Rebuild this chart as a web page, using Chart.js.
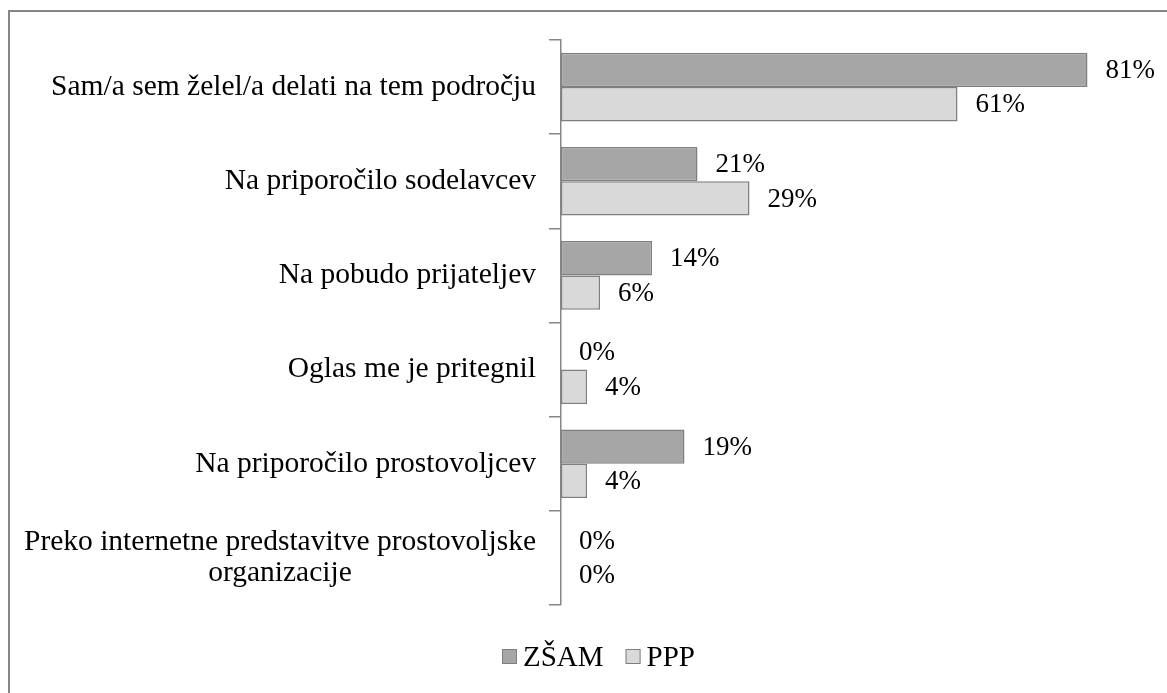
<!DOCTYPE html>
<html>
<head>
<meta charset="utf-8">
<script src="https://cdn.jsdelivr.net/npm/chart.js@4/dist/chart.umd.min.js"></script>
<style>
  body { margin: 0; background: #fff; }
  #wrap { position: relative; width: 1167px; height: 693px; }
</style>
</head>
<body>
<div id="wrap"><canvas id="chart" width="1167" height="693"></canvas></div>
<script>
const categories = [
  ['Sam/a sem želel/a delati na tem področju'],
  ['Na priporočilo sodelavcev'],
  ['Na pobudo prijateljev'],
  ['Oglas me je pritegnil'],
  ['Na priporočilo prostovoljcev'],
  ['Preko internetne predstavitve prostovoljske', 'organizacije']
];
const seriesNames = ['ZŠAM', 'PPP'];
const zsam = [81, 21, 14, 0, 19, 0];
const ppp = [61, 29, 6, 4, 4, 0];

const FONT = '"Liberation Serif", "Times New Roman", serif';
const fillColors = ['#a6a6a6', '#d9d9d9'];
const edgeColor = '#7f7f7f';

// frame, category labels, value labels and legend
const decorations = {
  id: 'decorations',
  beforeDraw(chart) {
    const c = chart.ctx;
    c.save();
    c.strokeStyle = '#868686';
    c.lineWidth = 2;
    c.beginPath();
    c.moveTo(9, 693);
    c.lineTo(9, 11);
    c.lineTo(1167, 11);
    c.stroke();
    c.restore();
  },
  afterDraw(chart) {
    const c = chart.ctx;
    const y = chart.scales.y;
    c.save();
    c.fillStyle = '#000';
    c.textBaseline = 'middle';

    // category labels: block right aligned, lines centered inside it
    c.font = '29.5px ' + FONT;
    c.textAlign = 'center';
    const lineH = 31;
    categories.forEach((lines, i) => {
      const cy = y.getPixelForTick(i);
      const w = Math.max(...lines.map(l => c.measureText(l).width));
      const cx = 536 - w / 2;
      lines.forEach((l, k) => {
        c.fillText(l, cx, cy + (k - (lines.length - 1) / 2) * lineH);
      });
    });

    // value labels
    c.font = '27px ' + FONT;
    c.textAlign = 'left';
    chart.data.datasets.forEach((ds, di) => {
      chart.getDatasetMeta(di).data.forEach((bar, i) => {
        c.fillText(ds.data[i] + '%', bar.x + 18, bar.y + 1);
      });
    });

    // legend
    c.font = '29px ' + FONT;
    let x = 502;
    const ly = 657;
    chart.data.datasets.forEach((ds, di) => {
      c.fillStyle = ds.backgroundColor;
      c.fillRect(x, ly - 8, 15, 15);
      c.strokeStyle = edgeColor;
      c.lineWidth = 1;
      c.strokeRect(x + 0.5, ly - 7.5, 14, 14);
      c.fillStyle = '#000';
      c.fillText(ds.label, x + 21, ly + 1);
      x += 21 + c.measureText(ds.label).width + 22;
    });
    c.restore();
  }
};

new Chart(document.getElementById('chart'), {
  type: 'bar',
  data: {
    labels: categories,
    datasets: [
      { label: seriesNames[0], data: zsam, backgroundColor: fillColors[0], borderColor: edgeColor, borderWidth: 1.5, borderSkipped: false },
      { label: seriesNames[1], data: ppp, backgroundColor: fillColors[1], borderColor: edgeColor, borderWidth: 1.5, borderSkipped: false }
    ]
  },
  options: {
    indexAxis: 'y',
    responsive: false,
    animation: false,
    layout: { padding: { left: 0, top: 40, right: 21, bottom: 88 } },
    datasets: { bar: { categoryPercentage: 0.73, barPercentage: 1 } },
    plugins: { legend: { display: false }, tooltip: { enabled: false } },
    scales: {
      x: { display: false, min: 0, max: 90 },
      y: {
        ticks: { display: false },
        grid: { offset: true, drawOnChartArea: false, drawTicks: true, tickLength: 12, color: '#868686', lineWidth: 1.5 },
        border: { display: true, color: '#868686', width: 1.5 },
        afterFit(scale) { scale.width = 561; }
      }
    }
  },
  plugins: [decorations]
});
</script>
</body>
</html>
